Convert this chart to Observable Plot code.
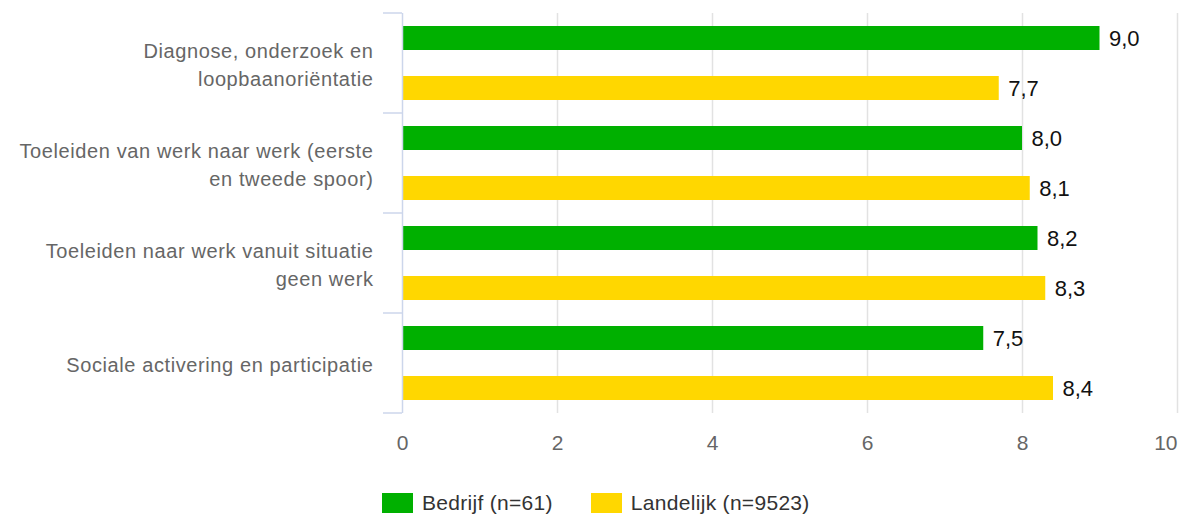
<!DOCTYPE html>
<html>
<head>
<meta charset="utf-8">
<script src="https://cdn.jsdelivr.net/npm/d3@7"></script>
<script src="https://cdn.jsdelivr.net/npm/@observablehq/plot@0.6"></script>
<style>
  html, body { margin: 0; padding: 0; background: #ffffff; }
  #chart { position: relative; width: 1181px; height: 517px; font-family: "Liberation Sans", Arial, sans-serif; }
  #chart svg { display: block; }
  .ylab text { letter-spacing: 0.6px; }
  #legend { position: absolute; left: 382px; top: 493px; display: flex; align-items: center; gap: 38px; font-size: 21px; color: #333333; letter-spacing: 0.3px; }
  #legend .item { display: flex; align-items: center; height: 20px; }
  #legend .sw { display: inline-block; width: 31px; height: 20px; margin-right: 9px; }
</style>
</head>
<body>
<div id="chart"></div>
<script>
// ---- data ----
const categories = [
  "Diagnose, onderzoek en loopbaanoriëntatie",
  "Toeleiden van werk naar werk (eerste en tweede spoor)",
  "Toeleiden naar werk vanuit situatie geen werk",
  "Sociale activering en participatie"
];
const categoryLabels = [
  "Diagnose, onderzoek en\nloopbaanoriëntatie",
  "Toeleiden van werk naar werk (eerste\nen tweede spoor)",
  "Toeleiden naar werk vanuit situatie\ngeen werk",
  "Sociale activering en participatie"
];
const seriesNames = ["Bedrijf (n=61)", "Landelijk (n=9523)"];
const bedrijf = [9.0, 8.0, 8.2, 7.5];
const landelijk = [7.7, 8.1, 8.3, 8.4];
const xTicks = [0, 2, 4, 6, 8, 10];
const colors = ["#00b000", "#ffd700"];

// ---- table ----
const rows = categories.flatMap((c, i) => [
  {category: c, series: seriesNames[0], value: bedrijf[i]},
  {category: c, series: seriesNames[1], value: landelijk[i]}
]);
const fmt = v => d3.format(".1f")(v).replace(".", ",");
const labelOf = c => categoryLabels[categories.indexOf(c)];

const W = 1181, H = 478;
const plot = Plot.plot({
  width: W,
  height: H,
  marginLeft: 402,
  marginRight: 4,
  marginTop: 12,
  marginBottom: 65,
  style: {fontFamily: "'Liberation Sans', Arial, sans-serif", background: "#ffffff", overflow: "visible"},
  x: {domain: [0, 10]},
  y: {domain: seriesNames, paddingInner: 0.52, paddingOuter: 0.26, axis: null},
  fy: {domain: categories, padding: 0, label: null},
  color: {domain: seriesNames, range: colors},
  marks: [
    Plot.gridX(xTicks.slice(1), {stroke: "#e2e2e2", strokeOpacity: 1, strokeWidth: 1.5}),
    Plot.barX(rows, {x: "value", y: "series", fy: "category", fill: "series"}),
    Plot.ruleX([0], {stroke: "#ccd6eb", strokeWidth: 1.5}),
    Plot.text(rows, {x: "value", y: "series", fy: "category", text: d => fmt(d.value),
      textAnchor: "start", dx: 9, fontSize: 22, fill: "#111111"}),
    Plot.axisFy({anchor: "left", tickSize: 0, tickPadding: 29, tickFormat: labelOf,
      fontSize: 20, fill: "#666666", lineHeight: 1.4, label: null, className: "ylab"}),
    Plot.axisX(xTicks.slice(0, -1), {anchor: "bottom", tickSize: 0, tickPadding: 22,
      fontSize: 21, fill: "#666666", label: null}),
    Plot.axisX(xTicks.slice(-1), {anchor: "bottom", tickSize: 0, tickPadding: 22,
      fontSize: 21, fill: "#666666", textAnchor: "end", label: null})
  ]
});

// group separator ticks on the category axis, positioned by the plot's own scales
const fy = plot.scale("fy");
const xs = plot.scale("x");
const x0 = xs.apply(0);
const bounds = categories.map(c => fy.apply(c)).concat([fy.apply(categories[categories.length - 1]) + fy.bandwidth]);
d3.select(plot).append("g")
  .attr("stroke", "#ccd6eb").attr("stroke-width", 1.5)
  .selectAll("line").data(bounds).join("line")
  .attr("x1", x0 - 19).attr("x2", x0)
  .attr("y1", d => d).attr("y2", d => d);

const chart = document.getElementById("chart");
chart.appendChild(plot);

// legend below the svg
const legend = d3.select(chart).append("div").attr("id", "legend");
const items = legend.selectAll(".item").data(seriesNames).join("div").attr("class", "item");
items.append("span").attr("class", "sw").style("background", (d, i) => colors[i]);
items.append("span").text(d => d);
</script>
</body>
</html>
